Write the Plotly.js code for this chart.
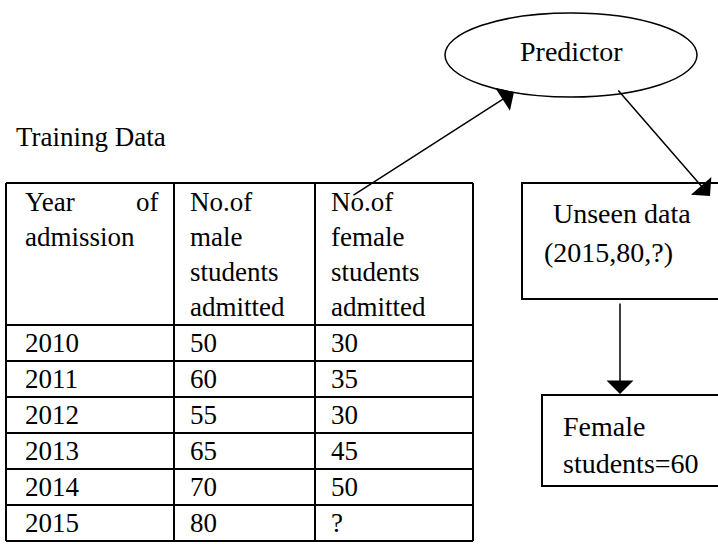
<!DOCTYPE html>
<html>
<head>
<meta charset="utf-8">
<script src="https://cdn.plot.ly/plotly-3.0.1.min.js"></script>
<style>html,body{margin:0;padding:0;background:#fff;}#chart{width:718px;height:544px;}</style>
</head>
<body>
<div id="chart"></div>
<script>
// ---- data ----
const headerCol1 = ["Year", "admission"];
const headerCol2 = ["No.of", "male", "students", "admitted"];
const headerCol3 = ["No.of", "female", "students", "admitted"];
const years = ["2010", "2011", "2012", "2013", "2014", "2015"];
const maleAdmitted = ["50", "60", "55", "65", "70", "80"];
const femaleAdmitted = ["30", "35", "30", "45", "50", "?"];
const titleText = "Training Data";
const predictorText = "Predictor";
const unseenText = ["Unseen data", "(2015,80,?)"];
const resultText = ["Female", "students=60"];

// ---- layout geometry ----
const FONT = {family: "Liberation Serif", size: 27, color: "#000"};
const colX = [6, 174, 315, 473];
const tableTop = 183, headerBottom = 325, rowH = 36;
const headerLineY = [202, 237, 272, 307];
const pad = 14;

const shapes = [];
const annotations = [];
const blk = {color: "#000", width: 2};

function line(x0, y0, x1, y1, w) {
  shapes.push({type: "line", xref: "x", yref: "y", x0, y0, x1, y1, line: {color: "#000", width: w || 2}});
}
function txt(x, y, s, anchor, size) {
  annotations.push({x, y, xref: "x", yref: "y", text: s, showarrow: false,
    xanchor: anchor || "left", yanchor: "middle", font: Object.assign({}, FONT, size ? {size} : {})});
}

// table grid
const tableBottom = headerBottom + rowH * years.length;
colX.forEach(x => line(x, tableTop, x, tableBottom));
line(colX[0], tableTop, colX[3], tableTop);
line(colX[0], headerBottom, colX[3], headerBottom);
years.forEach((_, i) => line(colX[0], headerBottom + rowH * (i + 1), colX[3], headerBottom + rowH * (i + 1)));

// header text
txt(colX[0] + 17, headerLineY[0], headerCol1[0]);
txt(161, headerLineY[0], "of", "right");
txt(colX[0] + 17, headerLineY[1], headerCol1[1]);
headerCol2.forEach((s, i) => txt(colX[1] + pad, headerLineY[i], s));
headerCol3.forEach((s, i) => txt(colX[2] + pad, headerLineY[i], s));

// body
years.forEach((y, i) => {
  const cy = headerBottom + rowH * (i + 0.5);
  txt(colX[0] + 17, cy, y);
  txt(colX[1] + pad, cy, maleAdmitted[i]);
  txt(colX[2] + pad, cy, femaleAdmitted[i]);
});

// title
txt(14, 137, titleText);

// predictor ellipse
shapes.push({type: "circle", xref: "x", yref: "y", x0: 445, y0: 13, x1: 697, y1: 97, line: {color: "#000", width: 1.5}});
txt(571, 51, predictorText, "center", 28);

// unseen data box
shapes.push({type: "rect", xref: "x", yref: "y", x0: 522, y0: 183, x1: 740, y1: 299, line: blk});
txt(551, 213, unseenText[0], "left", 28);
txt(542, 252, unseenText[1], "left", 28);

// result box
shapes.push({type: "rect", xref: "x", yref: "y", x0: 542, y0: 395, x1: 740, y1: 486, line: blk});
txt(561, 426, resultText[0], "left", 28);
txt(561, 463, resultText[1], "left", 28);

// arrows
function arrow(tx, ty, fx, fy) {
  annotations.push({x: tx, y: ty, ax: fx, ay: fy, xref: "x", yref: "y", axref: "x", ayref: "y",
    text: "", showarrow: true, arrowhead: 1, arrowsize: 3, arrowwidth: 1.5, arrowcolor: "#000", standoff: 0});
}
arrow(514, 92, 352, 196);
arrow(710, 196, 617, 89);
arrow(620, 394, 620, 302);

Plotly.newPlot("chart", [], {
  width: 718, height: 544,
  margin: {l: 0, r: 0, t: 0, b: 0},
  paper_bgcolor: "#fff", plot_bgcolor: "#fff",
  xaxis: {range: [0, 718], visible: false, fixedrange: true},
  yaxis: {range: [544, 0], visible: false, fixedrange: true},
  shapes, annotations, showlegend: false
}, {staticPlot: true, displayModeBar: false});
</script>
</body>
</html>
